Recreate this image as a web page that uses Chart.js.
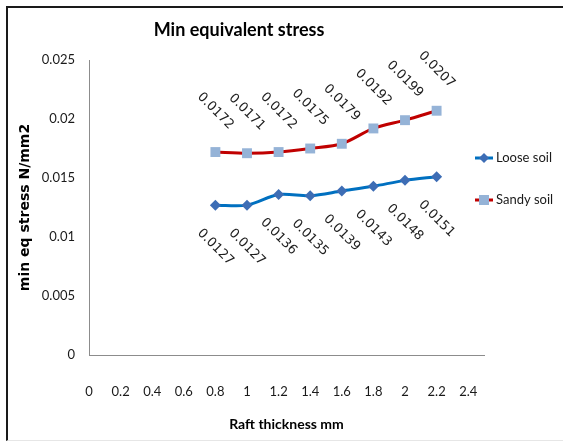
<!DOCTYPE html>
<html>
<head>
<meta charset="utf-8">
<title>Min equivalent stress</title>
<script src="https://cdn.jsdelivr.net/npm/chart.js@4"></script>
<style>
  body { margin: 0; background: #fff; }
  #wrap { position: relative; width: 563px; height: 441px; overflow: hidden; }
  #frame { position: absolute; left: 6px; top: 6px; width: 600px; height: 432px;
           border-left: 2px solid #1a1a1a; border-top: 2px solid #1a1a1a; border-bottom: 1px solid #e6e6e6;
           pointer-events: none; }
  canvas { position: absolute; left: 0; top: 0; }
</style>
</head>
<body>
<div id="wrap">
  <canvas id="stressChart" width="563" height="441"></canvas>
  <div id="frame"></div>
</div>
<script>
// raft thickness (mm) and min equivalent stress (N/mm2)
const thickness = [0.8, 1, 1.2, 1.4, 1.6, 1.8, 2, 2.2];
const looseSoil = [0.0127, 0.0127, 0.0136, 0.0135, 0.0139, 0.0143, 0.0148, 0.0151];
const sandySoil = [0.0172, 0.0171, 0.0172, 0.0175, 0.0179, 0.0192, 0.0199, 0.0207];
const seriesNames = ['Loose soil', 'Sandy soil'];
const xTicks = [0, 0.2, 0.4, 0.6, 0.8, 1, 1.2, 1.4, 1.6, 1.8, 2, 2.2, 2.4];
const yTicks = [0, 0.005, 0.01, 0.015, 0.02, 0.025];

const labelFont = '13px Lato, "Open Sans", sans-serif';

function toPoints(ys) {
  return thickness.map((x, i) => ({ x: x, y: ys[i] }));
}

// value labels turned 45deg, above the sandy line and below the loose line
const valueLabels = {
  id: 'valueLabels',
  afterDatasetsDraw(chart) {
    let ctx = chart.ctx;
    ctx.save();
    ctx.font = '13px "DejaVu Sans", Verdana, sans-serif';
    ctx.fillStyle = '#1e1e1e';
    ctx.textAlign = 'center';
    ctx.textBaseline = 'middle';
    chart.data.datasets.forEach((ds, di) => {
      let meta = chart.getDatasetMeta(di);
      let shift = di === 0 ? 42 : -41;
      meta.data.forEach((pt, i) => {
        ctx.save();
        ctx.translate(pt.x, pt.y + shift);
        ctx.rotate(Math.PI / 4);
        ctx.fillText(String(ds.data[i].y), 0, 0);
        ctx.restore();
      });
    });
    ctx.restore();
  }
};

// title and the line+marker legend on the right
const extras = {
  id: 'extras',
  afterDraw(chart) {
    let ctx = chart.ctx;
    ctx.save();
    ctx.fillStyle = '#000';
    ctx.font = 'bold 18px Lato, "Open Sans", sans-serif';
    ctx.textAlign = 'center';
    ctx.textBaseline = 'middle';
    ctx.fillText('Min equivalent stress', 239, 30);

    let rows = [158, 200];
    chart.data.datasets.forEach((ds, di) => {
      let y = rows[di];
      ctx.strokeStyle = ds.borderColor;
      ctx.lineWidth = 3;
      ctx.beginPath();
      ctx.moveTo(475, y);
      ctx.lineTo(493, y);
      ctx.stroke();
      ctx.fillStyle = ds.pointBackgroundColor;
      ctx.beginPath();
      if (di === 0) {
        ctx.moveTo(484 - 5, y); ctx.lineTo(484, y - 5); ctx.lineTo(484 + 5, y); ctx.lineTo(484, y + 5);
      } else {
        ctx.rect(484 - 5, y - 5, 10, 10);
      }
      ctx.closePath();
      ctx.fill();
      ctx.fillStyle = '#1a1a1a';
      ctx.font = labelFont;
      ctx.textAlign = 'left';
      ctx.fillText(seriesNames[di], 496, y);
    });
    ctx.restore();
  }
};

const ctx = document.getElementById('stressChart');
let myChart = new Chart(ctx, {
  type: 'line',
  data: {
    datasets: [{
      label: seriesNames[0],
      data: toPoints(looseSoil),
      borderColor: '#0070C0',
      borderWidth: 3,
      tension: 0.3,
      pointStyle: 'rectRot',
      pointRadius: 5.5,
      pointBorderWidth: 0,
      pointBackgroundColor: '#3D6DB5',
      pointBorderColor: '#3D6DB5'
    }, {
      label: seriesNames[1],
      data: toPoints(sandySoil),
      borderColor: '#C00000',
      borderWidth: 3,
      tension: 0.3,
      pointStyle: 'rect',
      pointRadius: 7,
      pointBorderWidth: 0,
      pointBackgroundColor: '#95B3D7',
      pointBorderColor: '#95B3D7'
    }]
  },
  options: {
    responsive: false,
    animation: false,
    layout: { padding: { left: 13, top: 60, right: 79, bottom: 8 } },
    plugins: {
      legend: { display: false },
      tooltip: { enabled: false }
    },
    scales: {
      x: {
        type: 'linear',
        min: 0,
        max: 2.5,
        afterBuildTicks: (scale) => { scale.ticks = xTicks.map(v => ({ value: v })); },
        afterFit: (scale) => { scale.height = 78; },
        grid: { color: 'rgba(0,0,0,0)', drawTicks: false },
        border: { display: true, color: '#8c8c8c', width: 1 },
        ticks: {
          padding: 29,
          color: '#1a1a1a',
          font: { family: 'Lato, "Open Sans", sans-serif', size: 13 },
          maxRotation: 0,
          autoSkip: false,
          callback: (v) => String(Number(v.toFixed(1)))
        },
        title: {
          display: true,
          text: 'Raft thickness mm',
          color: '#000',
          padding: { top: 0, bottom: 0 },
          font: { family: 'Lato, "Open Sans", sans-serif', size: 14, weight: 'bold' }
        }
      },
      y: {
        min: 0,
        max: 0.025,
        afterBuildTicks: (scale) => { scale.ticks = yTicks.map(v => ({ value: v })); },
        afterFit: (scale) => { scale.width = 76; },
        grid: { color: 'rgba(0,0,0,0)', drawTicks: false },
        border: { display: true, color: '#8c8c8c', width: 1 },
        ticks: {
          padding: 14,
          color: '#1a1a1a',
          font: { family: 'Lato, "Open Sans", sans-serif', size: 13 },
          callback: (v) => String(Number(v.toFixed(3)))
        },
        title: {
          display: true,
          text: 'min eq stress N/mm2',
          color: '#000',
          padding: { top: 4, bottom: 0 },
          font: { family: '"DejaVu Sans", Verdana, sans-serif', size: 14, weight: 'bold' }
        }
      }
    }
  },
  plugins: [valueLabels, extras]
});
</script>
</body>
</html>
